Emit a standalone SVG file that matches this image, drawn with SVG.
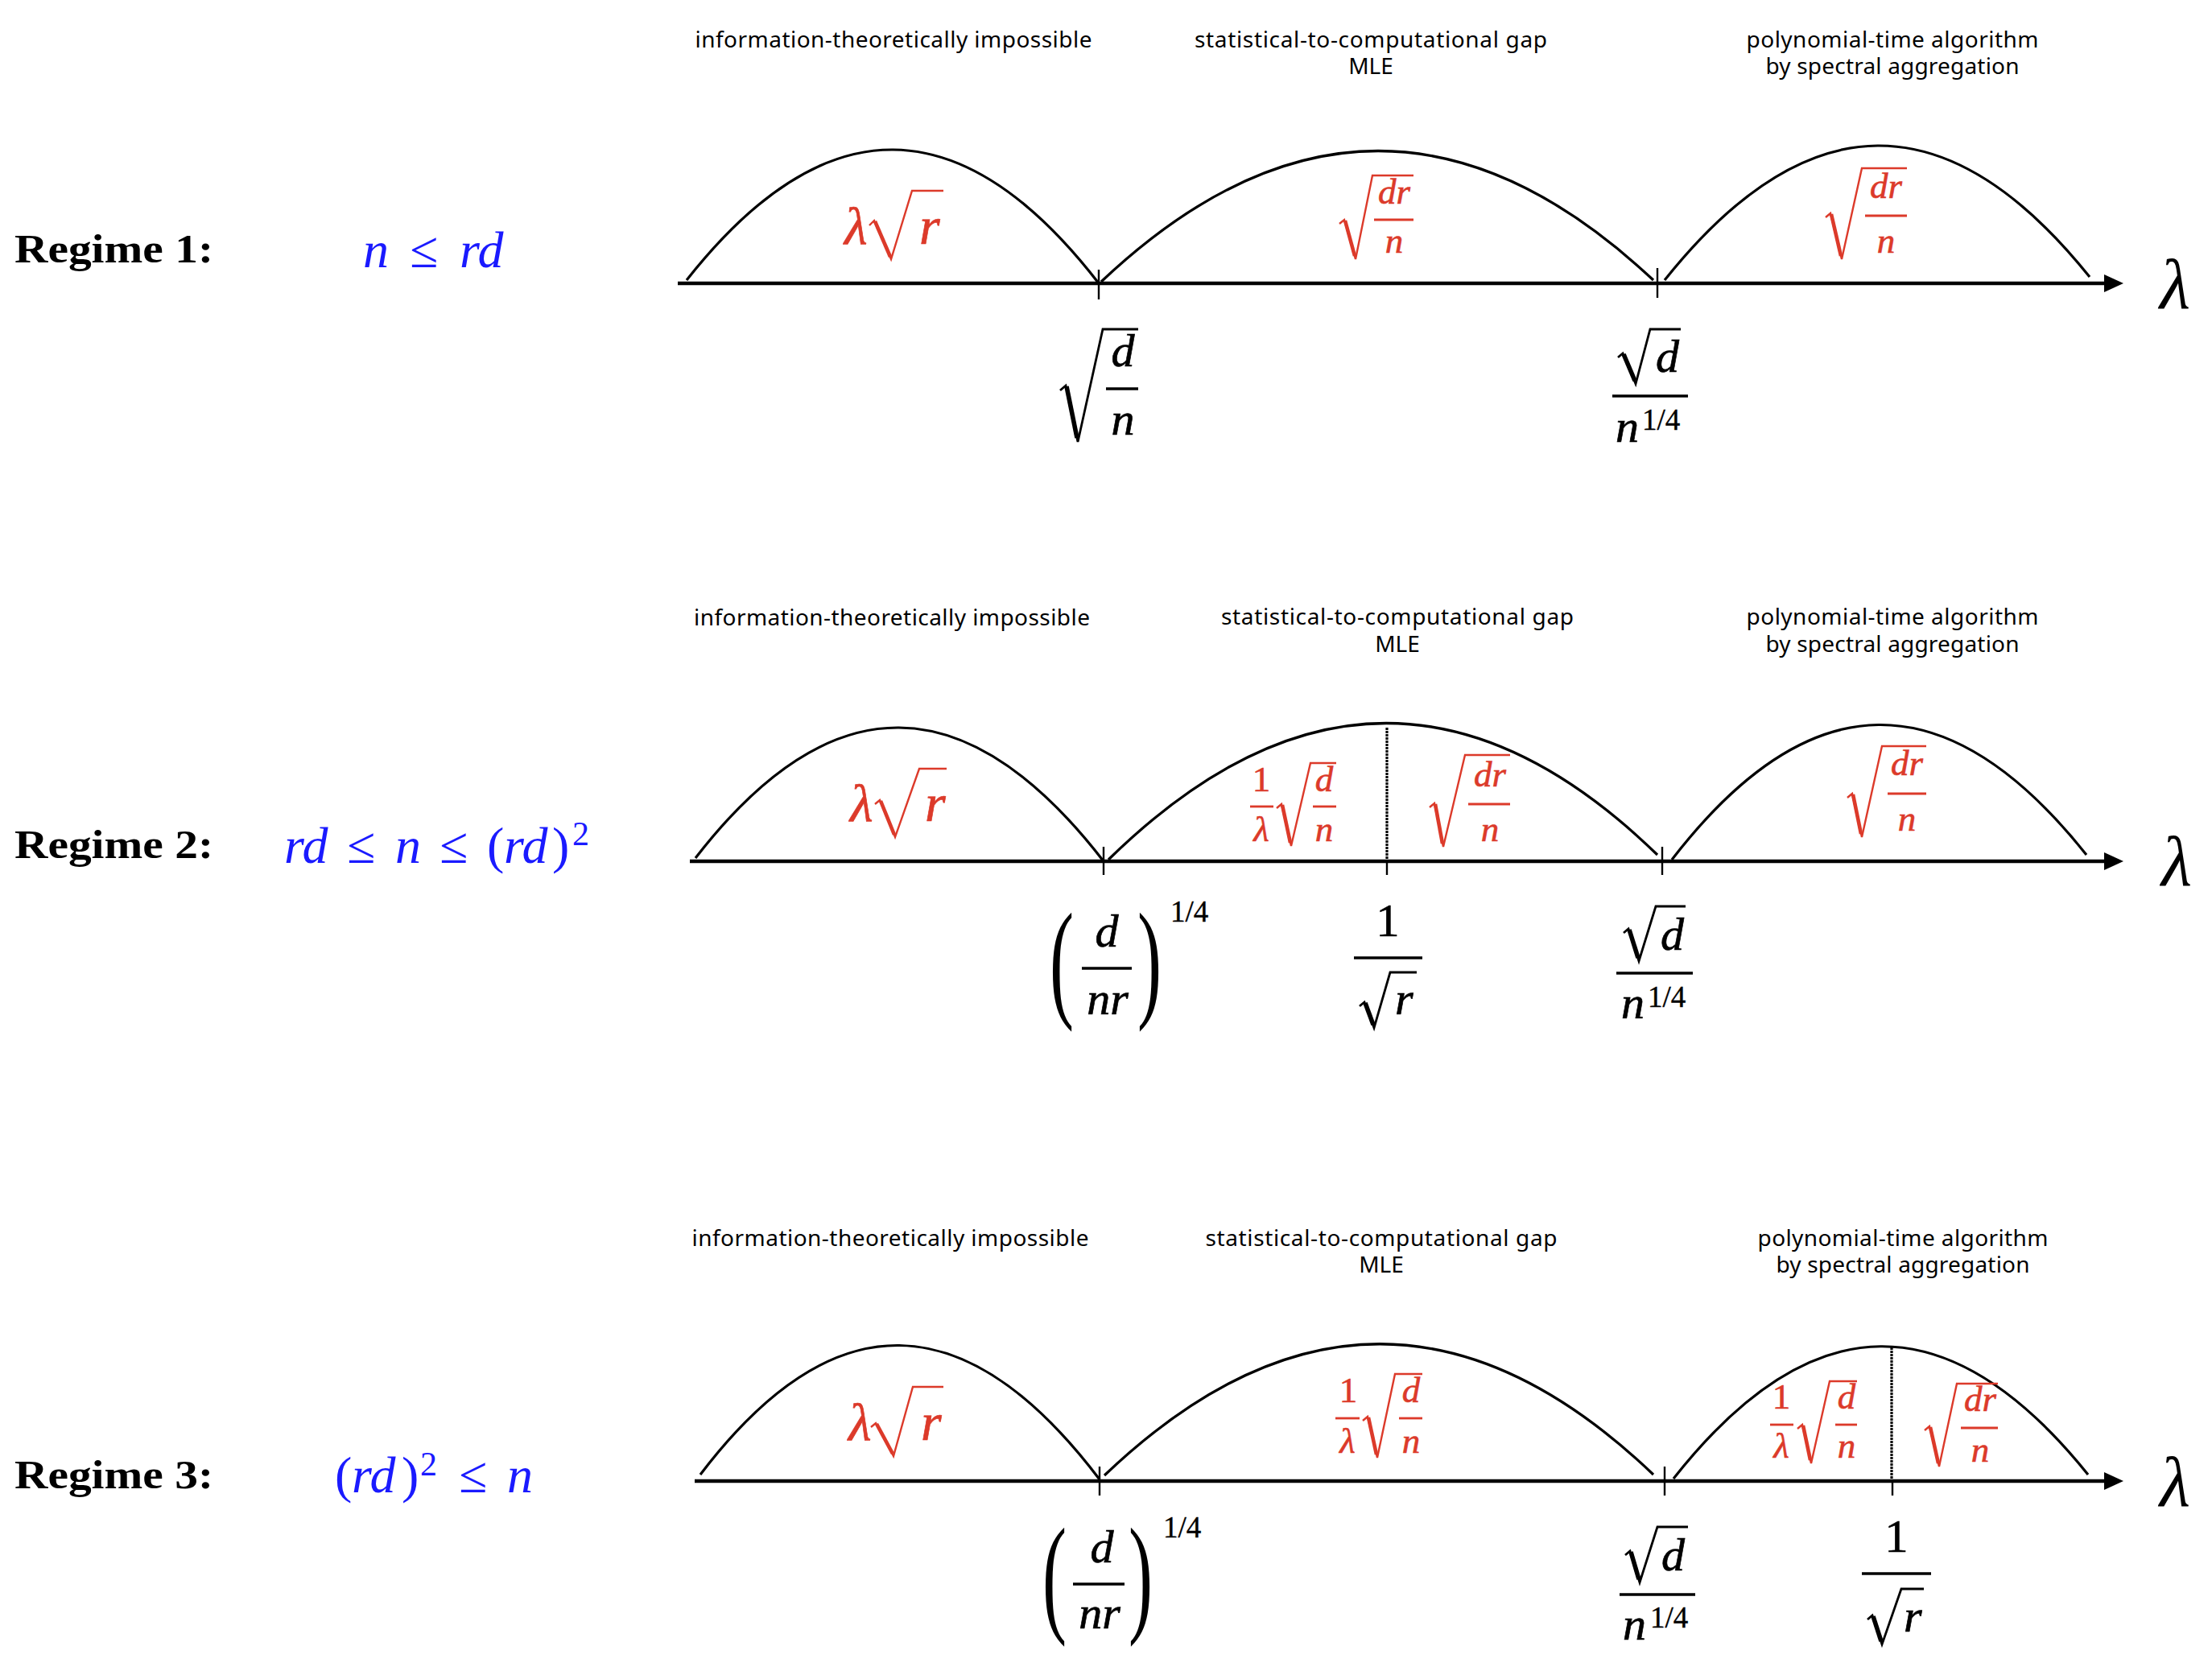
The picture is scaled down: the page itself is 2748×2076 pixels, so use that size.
<svg xmlns="http://www.w3.org/2000/svg" width="2748" height="2076" viewBox="0 0 2748 2076">
<style>
.hdr{font-family:"Noto Sans","Open Sans",sans-serif;font-size:28px;text-anchor:middle;fill:#000}
.reg{font-family:"Liberation Serif",serif;font-weight:bold;font-size:50px;fill:#000}
.cond{font-family:"Liberation Serif",serif;font-style:italic;font-size:64px;fill:#1a1aff}
.mr{font-family:"Liberation Serif",serif;font-style:italic;font-size:45px;fill:#dc3a2a;stroke:#dc3a2a;stroke-width:0.6;text-anchor:middle}
.mrl{font-family:"Liberation Serif",serif;font-style:italic;font-size:66px;fill:#dc3a2a;stroke:#dc3a2a;stroke-width:0.7}
.mb{font-family:"Liberation Serif",serif;font-style:italic;font-size:58px;fill:#000;stroke:#000;stroke-width:0.7}
.mbc{text-anchor:middle}
.sup{font-family:"Liberation Serif",serif;font-size:37px;fill:#000;stroke:#000;stroke-width:0.4}
.par{font-family:"Liberation Serif",serif;font-size:164px;fill:#000}
.lam{font-family:"Liberation Serif",serif;font-style:italic;font-size:88px;fill:#000}
text.up,tspan.up{font-style:normal}
.radr{fill:none;stroke:#dc3a2a;stroke-width:2.4;stroke-linejoin:miter}
.radrt{fill:none;stroke:#dc3a2a;stroke-width:4.6;stroke-linecap:butt}
.radb{fill:none;stroke:#000;stroke-width:2.8}
.radbt{fill:none;stroke:#000;stroke-width:5.6;stroke-linecap:butt}
.fr{stroke:#dc3a2a;stroke-width:2.8}
.fb{stroke:#000;stroke-width:3.4}
.arc{fill:none;stroke:#000;stroke-width:3.2}
.axis{stroke:#000;stroke-width:4.5}
.tick{stroke:#000;stroke-width:2.4}
.dash{stroke:#000;stroke-width:3.2;stroke-dasharray:3 1}
</style>

<!-- ================= Regime 1 ================= -->
<g id="regime1">
  <text class="reg" x="18" y="326" textLength="247" lengthAdjust="spacingAndGlyphs">Regime 1:</text>
  <text class="cond" y="332"><tspan x="451">n</tspan><tspan class="up" x="509">≤</tspan><tspan x="571">rd</tspan></text>
  <text class="hdr" x="1110" y="59" textLength="493">information-theoretically impossible</text>
  <text class="hdr" x="1703" y="59" textLength="438">statistical-to-computational gap</text>
  <text class="hdr" x="1703" y="92">MLE</text>
  <text class="hdr" x="2351" y="59" textLength="363">polynomial-time algorithm</text>
  <text class="hdr" x="2351" y="92" textLength="315">by spectral aggregation</text>
</g>
<g id="r1-connectors">
  <line class="axis" x1="842" y1="352" x2="2618" y2="352"/>
  <polygon points="2614,341 2638,352 2614,363" fill="#000"/>
  <path class="arc" d="M853,348 Q1110,22 1365,352"/>
  <path class="arc" d="M1368,350 Q1711,26 2054,348"/>
  <path class="arc" d="M2068,348 Q2333,16 2596,344"/>
  <line class="tick" x1="1365" y1="335" x2="1365" y2="372"/>
  <line class="tick" x1="2059" y1="333" x2="2059" y2="370"/>
</g>
<g id="r1-labels">
  <text class="mrl" x="1049" y="303">λ</text>
  <path class="radr" d="M1080,280 L1086,274 L1107,322 L1133,237 H1172"/>
  <path class="radrt" d="M1087,275 L1106,319"/>
  <text class="mrl" x="1142" y="303">r</text>

  <path class="radr" d="M1664,278 L1670,273 L1684,322 L1705,218 H1756"/>
  <path class="radrt" d="M1671,274 L1683,318"/>
  <text class="mr" x="1732" y="253">dr</text>
  <line class="fr" x1="1707" y1="273" x2="1756" y2="273"/>
  <text class="mr" x="1732" y="314">n</text>

  <path class="radr" d="M2268,270 L2274,265 L2288,322 L2313,209 H2369"/>
  <path class="radrt" d="M2275,266 L2287,318"/>
  <text class="mr" x="2343" y="246">dr</text>
  <line class="fr" x1="2317" y1="268" x2="2369" y2="268"/>
  <text class="mr" x="2343" y="314">n</text>

  <path class="radb" d="M1317,485 L1324,479 L1339,549 L1370,409 H1414"/>
  <path class="radbt" d="M1325,480 L1338,544"/>
  <text class="mb mbc" x="1395" y="455">d</text>
  <line class="fb" x1="1374" y1="483" x2="1414" y2="483"/>
  <text class="mb mbc" x="1395" y="540">n</text>

  <path class="radb" d="M2010,444 L2016,439 L2032,477 L2050,409 H2088"/>
  <path class="radbt" d="M2017,440 L2031,473"/>
  <text class="mb" x="2057" y="462">d</text>
  <line class="fb" x1="2003" y1="492" x2="2097" y2="492"/>
  <text class="mb" x="2007" y="549">n</text>
  <text class="sup" x="2040" y="534">1/4</text>

  <text class="lam" x="2683" y="383">λ</text>
</g>

<!-- ================= Regime 2 ================= -->
<g id="regime2">
  <text class="reg" x="18" y="1066" textLength="247" lengthAdjust="spacingAndGlyphs">Regime 2:</text>
  <text class="cond" y="1072"><tspan x="353">rd</tspan><tspan class="up" x="431">≤</tspan><tspan x="491">n</tspan><tspan class="up" x="546">≤</tspan><tspan class="up" x="605">(</tspan><tspan x="626">rd</tspan><tspan class="up" x="686">)</tspan><tspan class="up" x="711" y="1050" font-size="42">2</tspan></text>
  <text class="hdr" x="1108" y="777" textLength="492">information-theoretically impossible</text>
  <text class="hdr" x="1736" y="776" textLength="438">statistical-to-computational gap</text>
  <text class="hdr" x="1736" y="810">MLE</text>
  <text class="hdr" x="2351" y="776" textLength="363">polynomial-time algorithm</text>
  <text class="hdr" x="2351" y="810" textLength="315">by spectral aggregation</text>
</g>
<g id="r2-connectors">
  <line class="axis" x1="857" y1="1070" x2="2618" y2="1070"/>
  <polygon points="2614,1059 2638,1070 2614,1081" fill="#000"/>
  <path class="arc" d="M864,1066 Q1116,740 1371,1070"/>
  <path class="arc" d="M1377,1068 Q1720,732 2059,1062"/>
  <path class="arc" d="M2077,1068 Q2333,736 2592,1062"/>
  <line class="tick" x1="1371" y1="1052" x2="1371" y2="1087"/>
  <line class="tick" x1="2065" y1="1052" x2="2065" y2="1087"/>
  <line class="dash" x1="1723" y1="904" x2="1723" y2="1070"/>
  <line class="tick" x1="1723" y1="1070" x2="1723" y2="1087"/>
</g>
<g id="r2-labels">
  <text class="mrl" x="1056" y="1020">λ</text>
  <path class="radr" d="M1087,999 L1093,994 L1112,1040 L1142,955 H1176"/>
  <path class="radrt" d="M1094,995 L1111,1037"/>
  <text class="mrl" x="1149" y="1020">r</text>

  <text class="mr up" x="1567" y="983">1</text>
  <line class="fr" x1="1553" y1="1002" x2="1582" y2="1002"/>
  <text class="mr" x="1567" y="1045">λ</text>
  <path class="radr" d="M1586,1004 L1592,999 L1604,1051 L1628,948 H1660"/>
  <path class="radrt" d="M1593,1000 L1603,1047"/>
  <text class="mr" x="1645" y="983">d</text>
  <line class="fr" x1="1631" y1="1002" x2="1660" y2="1002"/>
  <text class="mr" x="1645" y="1045">n</text>

  <path class="radr" d="M1776,1003 L1782,998 L1793,1052 L1820,938 H1876"/>
  <path class="radrt" d="M1783,999 L1792,1048"/>
  <text class="mr" x="1851" y="977">dr</text>
  <line class="fr" x1="1824" y1="999" x2="1876" y2="999"/>
  <text class="mr" x="1851" y="1045">n</text>

  <path class="radr" d="M2295,991 L2301,986 L2313,1040 L2338,927 H2393"/>
  <path class="radrt" d="M2302,987 L2312,1036"/>
  <text class="mr" x="2369" y="963">dr</text>
  <line class="fr" x1="2345" y1="986" x2="2393" y2="986"/>
  <text class="mr" x="2369" y="1032">n</text>

  <text class="par" transform="translate(1304,1247) scale(0.55,1)">(</text>
  <text class="mb mbc" x="1375" y="1176">d</text>
  <line class="fb" x1="1344" y1="1203" x2="1406" y2="1203"/>
  <text class="mb mbc" x="1376" y="1260">nr</text>
  <text class="par" transform="translate(1413,1247) scale(0.55,1)">)</text>
  <text class="sup" x="1454" y="1145">1/4</text>

  <text class="mb mbc up" x="1724" y="1163">1</text>
  <line class="fb" x1="1682" y1="1190" x2="1767" y2="1190"/>
  <path class="radb" d="M1689,1250 L1695,1245 L1707,1277 L1727,1208 H1760"/>
  <path class="radbt" d="M1696,1246 L1706,1273"/>
  <text class="mb" x="1733" y="1260">r</text>

  <path class="radb" d="M2017,1159 L2023,1154 L2036,1194 L2057,1126 H2094"/>
  <path class="radbt" d="M2024,1155 L2035,1190"/>
  <text class="mb" x="2063" y="1180">d</text>
  <line class="fb" x1="2008" y1="1209" x2="2103" y2="1209"/>
  <text class="mb" x="2014" y="1265">n</text>
  <text class="sup" x="2047" y="1251">1/4</text>

  <text class="lam" x="2685" y="1100">λ</text>
</g>

<!-- ================= Regime 3 ================= -->
<g id="regime3">
  <text class="reg" x="18" y="1849" textLength="247" lengthAdjust="spacingAndGlyphs">Regime 3:</text>
  <text class="cond" y="1854"><tspan class="up" x="416">(</tspan><tspan x="437">rd</tspan><tspan class="up" x="499">)</tspan><tspan class="up" x="522" y="1833" font-size="42">2</tspan><tspan class="up" x="570" y="1854">≤</tspan><tspan x="630">n</tspan></text>
  <text class="hdr" x="1106" y="1548" textLength="493">information-theoretically impossible</text>
  <text class="hdr" x="1716" y="1548" textLength="437">statistical-to-computational gap</text>
  <text class="hdr" x="1716" y="1581">MLE</text>
  <text class="hdr" x="2364" y="1548" textLength="361">polynomial-time algorithm</text>
  <text class="hdr" x="2364" y="1581" textLength="315">by spectral aggregation</text>
</g>
<g id="r3-connectors">
  <line class="axis" x1="863" y1="1840" x2="2618" y2="1840"/>
  <polygon points="2614,1829 2638,1840 2614,1851" fill="#000"/>
  <path class="arc" d="M870,1832 Q1116,1508 1366,1838"/>
  <path class="arc" d="M1372,1833 Q1714,1507 2054,1832"/>
  <path class="arc" d="M2079,1837 Q2336,1511 2594,1832"/>
  <line class="tick" x1="1366" y1="1822" x2="1366" y2="1858"/>
  <line class="tick" x1="2068" y1="1822" x2="2068" y2="1858"/>
  <line class="dash" x1="2350" y1="1674" x2="2350" y2="1840"/>
  <line class="tick" x1="2351" y1="1840" x2="2351" y2="1858"/>
</g>
<g id="r3-labels">
  <text class="mrl" x="1054" y="1789">λ</text>
  <path class="radr" d="M1082,1773 L1088,1768 L1110,1809 L1134,1723 H1172"/>
  <path class="radrt" d="M1089,1769 L1109,1806"/>
  <text class="mrl" x="1144" y="1789">r</text>

  <text class="mr up" x="1675" y="1742">1</text>
  <line class="fr" x1="1659" y1="1762" x2="1689" y2="1762"/>
  <text class="mr" x="1674" y="1805">λ</text>
  <path class="radr" d="M1693,1765 L1699,1760 L1711,1811 L1733,1707 H1767"/>
  <path class="radrt" d="M1700,1761 L1710,1807"/>
  <text class="mr" x="1753" y="1742">d</text>
  <line class="fr" x1="1738" y1="1762" x2="1767" y2="1762"/>
  <text class="mr" x="1753" y="1805">n</text>

  <text class="mr up" x="2213" y="1750">1</text>
  <line class="fr" x1="2199" y1="1770" x2="2228" y2="1770"/>
  <text class="mr" x="2213" y="1811">λ</text>
  <path class="radr" d="M2233,1775 L2239,1770 L2250,1818 L2273,1716 H2307"/>
  <path class="radrt" d="M2240,1771 L2249,1814"/>
  <text class="mr" x="2294" y="1750">d</text>
  <line class="fr" x1="2280" y1="1770" x2="2307" y2="1770"/>
  <text class="mr" x="2294" y="1811">n</text>

  <path class="radr" d="M2391,1777 L2397,1772 L2409,1822 L2431,1719 H2482"/>
  <path class="radrt" d="M2398,1773 L2408,1818"/>
  <text class="mr" x="2460" y="1753">dr</text>
  <line class="fr" x1="2436" y1="1774" x2="2482" y2="1774"/>
  <text class="mr" x="2460" y="1816">n</text>

  <text class="par" transform="translate(1295,2011) scale(0.55,1)">(</text>
  <text class="mb mbc" x="1369" y="1941">d</text>
  <line class="fb" x1="1333" y1="1968" x2="1397" y2="1968"/>
  <text class="mb mbc" x="1366" y="2023">nr</text>
  <text class="par" transform="translate(1402,2011) scale(0.55,1)">)</text>
  <text class="sup" x="1445" y="1910">1/4</text>

  <path class="radb" d="M2019,1932 L2025,1927 L2037,1966 L2059,1897 H2097"/>
  <path class="radbt" d="M2026,1928 L2036,1962"/>
  <text class="mb" x="2064" y="1951">d</text>
  <line class="fb" x1="2012" y1="1981" x2="2106" y2="1981"/>
  <text class="mb" x="2016" y="2037">n</text>
  <text class="sup" x="2050" y="2022">1/4</text>

  <text class="mb mbc up" x="2356" y="1928">1</text>
  <line class="fb" x1="2313" y1="1955" x2="2399" y2="1955"/>
  <path class="radb" d="M2320,2012 L2326,2007 L2338,2043 L2362,1974 H2390"/>
  <path class="radbt" d="M2327,2008 L2337,2039"/>
  <text class="mb" x="2365" y="2027">r</text>

  <text class="lam" x="2683" y="1871">λ</text>
</g>
</svg>
